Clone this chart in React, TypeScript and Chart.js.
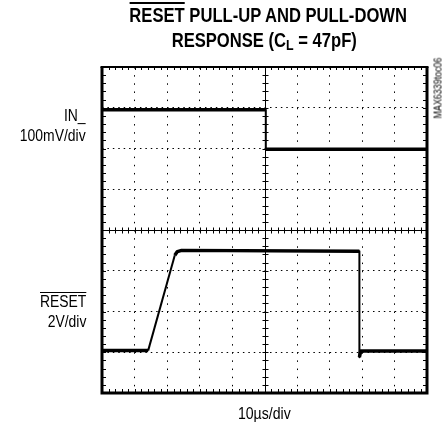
import React, { useEffect, useRef } from "react";
import { Chart, registerables } from "chart.js";

Chart.register(...registerables);

// ---- data (time in divisions, amplitude in divisions; 10 x 8 division screen) ----
const inTimes = [0, 5.04, 5.04, 10];
const inValues = [2.95, 2.95, 1.98, 1.98];

const resetTimes = [0, 1.42, 2.24, 2.32, 2.45, 7.92, 7.92, 7.96, 10];
const resetValues = [-2.96, -2.96, -0.62, -0.53, -0.5, -0.52, -3.12, -2.97, -2.97];

const xDivs = [0, 10];
const yDivs = [-4, 4];
const minorPerDiv = 5;

const titleLine1 = ["RESET", " PULL-UP AND PULL-DOWN"];
const titleLine2 = ["RESPONSE (C", "L", " = 47pF)"];
const inLabel = ["IN_", "100mV/div"];
const resetLabel = ["RESET", "2V/div"];
const timeLabel = "10\u00b5s/div";
const figId = "MAX6339toc06";

const FONT = "'Liberation Sans', Arial, sans-serif";

const toPoints = (xs: number[], ys: number[]) => xs.map((x, i) => ({ x, y: ys[i] }));

const edgeWidth = (ctx: any) =>
  Math.abs(ctx.p1.parsed.y - ctx.p0.parsed.y) > 0.3 ? 2 : undefined;

const scopePlugin = {
  id: "scope",
  beforeDatasetsDraw(chart: any) {
    const { ctx, scales } = chart;
    const xs = scales.x;
    const ys = scales.y;
    const cx = Math.round(xs.getPixelForValue((xDivs[0] + xDivs[1]) / 2)) + 0.5;
    const cy = Math.round(ys.getPixelForValue((yDivs[0] + yDivs[1]) / 2)) + 0.5;
    ctx.save();
    ctx.strokeStyle = "#000";
    ctx.lineWidth = 1;
    ctx.beginPath();
    ctx.moveTo(xs.left, cy);
    ctx.lineTo(xs.right, cy);
    ctx.moveTo(cx, ys.top);
    ctx.lineTo(cx, ys.bottom);
    const step = 1 / minorPerDiv;
    const nx = Math.round((xDivs[1] - xDivs[0]) * minorPerDiv);
    for (let i = 0; i <= nx; i++) {
      const p = Math.round(xs.getPixelForValue(xDivs[0] + i * step)) + 0.5;
      ctx.moveTo(p, cy - 3);
      ctx.lineTo(p, cy + 3);
      ctx.moveTo(p, ys.top);
      ctx.lineTo(p, ys.top + 3);
      ctx.moveTo(p, ys.bottom);
      ctx.lineTo(p, ys.bottom - 4);
    }
    const ny = Math.round((yDivs[1] - yDivs[0]) * minorPerDiv);
    for (let i = 0; i <= ny; i++) {
      const p = Math.round(ys.getPixelForValue(yDivs[0] + i * step)) + 0.5;
      ctx.moveTo(cx - 3, p);
      ctx.lineTo(cx + 3, p);
      ctx.moveTo(xs.left, p);
      ctx.lineTo(xs.left + 4, p);
      ctx.moveTo(xs.right, p);
      ctx.lineTo(xs.right - 4, p);
    }
    ctx.stroke();
    ctx.restore();
  },
  afterDraw(chart: any) {
    const { ctx, chartArea } = chart;
    const { left, right, top, bottom } = chartArea;
    ctx.save();
    ctx.strokeStyle = "#000";
    ctx.lineWidth = 3;
    ctx.beginPath();
    ctx.moveTo(left, top);
    ctx.lineTo(left, bottom);
    ctx.lineTo(right, bottom);
    ctx.lineTo(right, top);
    ctx.stroke();
    ctx.lineWidth = 2;
    ctx.beginPath();
    ctx.moveTo(left - 1.5, top);
    ctx.lineTo(right + 1.5, top);
    ctx.stroke();
    ctx.restore();
  },
};

export default function App() {
  const ref = useRef<HTMLCanvasElement | null>(null);

  useEffect(() => {
    if (!ref.current) return;
    const chart = new Chart(ref.current, {
      type: "line",
      data: {
        datasets: [
          {
            label: "IN_",
            data: toPoints(inTimes, inValues),
            borderColor: "#000",
            borderWidth: 3.5,
            borderJoinStyle: "round",
            pointRadius: 0,
            tension: 0,
            segment: { borderWidth: edgeWidth },
          },
          {
            label: "RESET",
            data: toPoints(resetTimes, resetValues),
            borderColor: "#000",
            borderWidth: 3.5,
            borderJoinStyle: "round",
            pointRadius: 0,
            tension: 0,
            segment: { borderWidth: edgeWidth },
          },
        ],
      },
      options: {
        responsive: false,
        animation: false,
        layout: { padding: { left: 102, top: 67, right: 20, bottom: 35 } },
        plugins: { legend: { display: false }, tooltip: { enabled: false }, title: { display: false } },
        scales: {
          x: {
            type: "linear",
            min: xDivs[0],
            max: xDivs[1],
            ticks: { display: false, stepSize: 1 },
            grid: {
              drawTicks: false,
              lineWidth: 1,
              color: (c: any) => (c.tick && c.tick.value === 5 ? "rgba(0,0,0,0)" : "#000"),
            },
            border: { display: false, dash: [1.5, 6.65] },
          },
          y: {
            type: "linear",
            min: yDivs[0],
            max: yDivs[1],
            ticks: { display: false, stepSize: 1 },
            grid: {
              drawTicks: false,
              lineWidth: 1,
              color: (c: any) => (c.tick && c.tick.value === 0 ? "rgba(0,0,0,0)" : "#000"),
            },
            border: { display: false, dash: [1.5, 3.92] },
          },
        },
      },
      plugins: [scopePlugin],
    });
    return () => chart.destroy();
  }, []);

  const sideStyle: React.CSSProperties = {
    position: "absolute",
    right: 447 - 86,
    textAlign: "right",
    fontFamily: FONT,
    fontSize: 16,
    lineHeight: "20px",
    color: "#000",
    whiteSpace: "nowrap",
    transform: "scaleX(0.87)",
    transformOrigin: "right center",
  };

  return (
    <div style={{ position: "absolute", left: 0, top: 0, width: 447, height: 428, background: "#fff" }}>
      <canvas ref={ref} width={447} height={428} style={{ position: "absolute", left: 0, top: 0, width: 447, height: 428 }} />
      <div
        style={{
          position: "absolute",
          left: 102,
          width: 325,
          top: 3,
          textAlign: "center",
          fontFamily: FONT,
          fontWeight: "bold",
          fontSize: 20,
          lineHeight: "25px",
          color: "#000",
          whiteSpace: "nowrap",
          transform: "scaleX(0.83)",
          transformOrigin: "161px 0",
        }}
      >
        <div>
          <span style={{ textDecoration: "overline" }}>{titleLine1[0]}</span>
          {titleLine1[1]}
        </div>
        <div>
          {titleLine2[0]}
          <span style={{ fontSize: 15, verticalAlign: -3 }}>{titleLine2[1]}</span>
          {titleLine2[2]}
        </div>
      </div>
      <div style={{ ...sideStyle, top: 106 }}>
        <div>{inLabel[0]}</div>
        <div>{inLabel[1]}</div>
      </div>
      <div style={{ ...sideStyle, top: 292 }}>
        <div style={{ textDecoration: "overline" }}>{resetLabel[0]}</div>
        <div>{resetLabel[1]}</div>
      </div>
      <div
        style={{
          position: "absolute",
          left: 102,
          width: 325,
          top: 404,
          textAlign: "center",
          fontFamily: FONT,
          fontSize: 16,
          lineHeight: "20px",
          color: "#000",
          transform: "scaleX(0.88)",
          transformOrigin: "161px 0",
        }}
      >
        {timeLabel}
      </div>
      <div
        style={{
          position: "absolute",
          left: 438,
          top: 88,
          width: 0,
          height: 0,
        }}
      >
        <div
          style={{
            position: "absolute",
            left: 0,
            top: 0,
            transform: "translate(-50%, -50%) rotate(-90deg) scaleX(0.85)",
            fontFamily: FONT,
            fontSize: 10.5,
            lineHeight: "11px",
            color: "#000",
            whiteSpace: "nowrap",
          }}
        >
          {figId}
        </div>
      </div>
    </div>
  );
}
